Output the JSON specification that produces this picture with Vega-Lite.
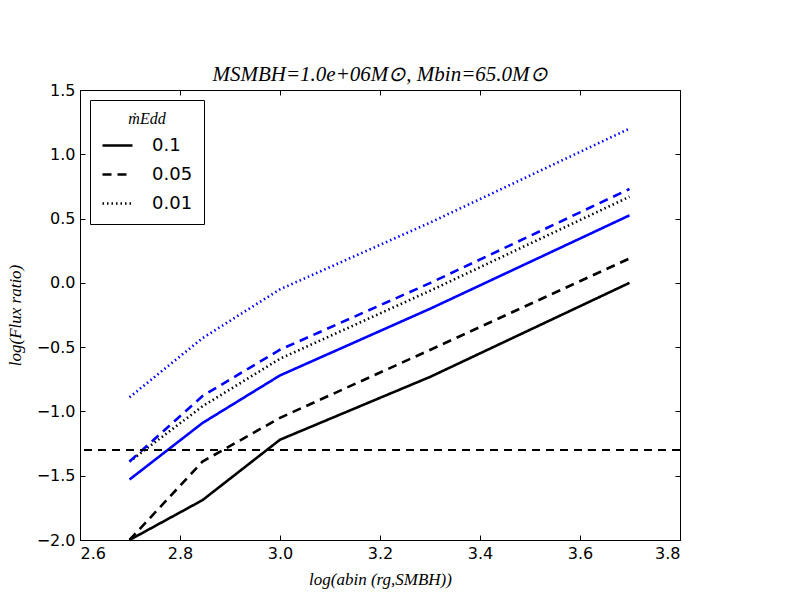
{
  "$schema": "https://vega.github.io/schema/vega-lite/v6.json",
  "width": 600,
  "height": 450,
  "autosize": {"type": "none"},
  "padding": {"left": 80, "top": 90, "right": 120, "bottom": 60},
  "background": "white",
  "title": {
    "text": "MSMBH=1.0e+06M⊙, Mbin=65.0M⊙",
    "font": "Liberation Serif",
    "fontStyle": "italic",
    "fontWeight": "normal",
    "fontSize": 21,
    "color": "black",
    "anchor": "middle",
    "offset": -3
  },
  "config": {
    "view": {"stroke": "black", "strokeWidth": 1},
    "axis": {
      "labelFont": "DejaVu Sans",
      "labelFontSize": 16,
      "labelColor": "black",
      "titleFont": "Liberation Serif",
      "titleFontStyle": "italic",
      "titleFontWeight": "normal",
      "titleFontSize": 17,
      "titleColor": "black",
      "domainColor": "black",
      "tickColor": "black",
      "tickSize": -5,
      "grid": false
    }
  },
  "data": {
    "values": [
      {"a": 2.699, "flux": -2.0, "mdot": "0.1", "run": "A"},
      {"a": 2.845, "flux": -1.69, "mdot": "0.1", "run": "A"},
      {"a": 3.0, "flux": -1.22, "mdot": "0.1", "run": "A"},
      {"a": 3.301, "flux": -0.73, "mdot": "0.1", "run": "A"},
      {"a": 3.699, "flux": 0.0, "mdot": "0.1", "run": "A"},
      {"a": 2.699, "flux": -2.0, "mdot": "0.05", "run": "A"},
      {"a": 2.845, "flux": -1.39, "mdot": "0.05", "run": "A"},
      {"a": 3.0, "flux": -1.05, "mdot": "0.05", "run": "A"},
      {"a": 3.301, "flux": -0.52, "mdot": "0.05", "run": "A"},
      {"a": 3.699, "flux": 0.19, "mdot": "0.05", "run": "A"},
      {"a": 2.699, "flux": -1.39, "mdot": "0.01", "run": "A"},
      {"a": 2.845, "flux": -0.96, "mdot": "0.01", "run": "A"},
      {"a": 3.0, "flux": -0.59, "mdot": "0.01", "run": "A"},
      {"a": 3.301, "flux": -0.06, "mdot": "0.01", "run": "A"},
      {"a": 3.699, "flux": 0.67, "mdot": "0.01", "run": "A"},
      {"a": 2.699, "flux": -1.53, "mdot": "0.1", "run": "B"},
      {"a": 2.845, "flux": -1.09, "mdot": "0.1", "run": "B"},
      {"a": 3.0, "flux": -0.72, "mdot": "0.1", "run": "B"},
      {"a": 3.301, "flux": -0.2, "mdot": "0.1", "run": "B"},
      {"a": 3.699, "flux": 0.525, "mdot": "0.1", "run": "B"},
      {"a": 2.699, "flux": -1.39, "mdot": "0.05", "run": "B"},
      {"a": 2.845, "flux": -0.88, "mdot": "0.05", "run": "B"},
      {"a": 3.0, "flux": -0.52, "mdot": "0.05", "run": "B"},
      {"a": 3.301, "flux": 0.0, "mdot": "0.05", "run": "B"},
      {"a": 3.699, "flux": 0.73, "mdot": "0.05", "run": "B"},
      {"a": 2.699, "flux": -0.89, "mdot": "0.01", "run": "B"},
      {"a": 2.845, "flux": -0.43, "mdot": "0.01", "run": "B"},
      {"a": 3.0, "flux": -0.05, "mdot": "0.01", "run": "B"},
      {"a": 3.301, "flux": 0.47, "mdot": "0.01", "run": "B"},
      {"a": 3.699, "flux": 1.2, "mdot": "0.01", "run": "B"}
    ]
  },
  "resolve": {"axis": {"x": "independent", "y": "independent"}},
  "layer": [
    {
      "mark": {"type": "line", "strokeWidth": 2.6},
      "encoding": {
        "x": {
          "field": "a",
          "type": "quantitative",
          "scale": {"domain": [2.6, 3.8], "nice": false, "zero": false},
          "axis": {
            "title": "log(abin (rg,SMBH))",
            "values": [2.6, 2.8, 3.0, 3.2, 3.4, 3.6, 3.8],
            "format": ".1f",
            "labelPadding": 10,
            "titlePadding": 10
          }
        },
        "y": {
          "field": "flux",
          "type": "quantitative",
          "scale": {"domain": [-2.0, 1.5], "nice": false, "zero": false},
          "axis": {
            "title": "log(Flux ratio)",
            "values": [-2.0, -1.5, -1.0, -0.5, 0.0, 0.5, 1.0, 1.5],
            "format": ".1f",
            "labelPadding": 10,
            "titlePadding": 12
          }
        },
        "color": {
          "field": "run",
          "type": "nominal",
          "scale": {"domain": ["A", "B"], "range": ["black", "blue"]},
          "legend": null
        },
        "strokeDash": {
          "field": "mdot",
          "type": "nominal",
          "scale": {
            "domain": ["0.1", "0.05", "0.01"],
            "range": [[1, 0], [9, 6], [1.5, 3]]
          },
          "legend": {
            "title": "ṁEdd",
            "titleFont": "Liberation Serif",
            "titleFontStyle": "italic",
            "titleFontWeight": "normal",
            "titleFontSize": 16,
            "titleColor": "black",
            "titleAnchor": "middle",
            "titlePadding": 2,
            "orient": "top-left",
            "offset": 10,
            "padding": 11,
            "strokeColor": "black",
            "fillColor": "white",
            "cornerRadius": 0,
            "symbolType": "stroke",
            "symbolSize": 900,
            "symbolStrokeWidth": 2.6,
            "symbolStrokeColor": "black",
            "labelFont": "DejaVu Sans",
            "labelFontSize": 18,
            "labelColor": "black",
            "labelOffset": 18,
            "rowPadding": 3
          }
        }
      }
    },
    {
      "mark": {"type": "rule", "strokeWidth": 1, "strokeDash": [8, 6], "color": "black"},
      "encoding": {"y": {"datum": -1.3, "axis": null}}
    },
    {
      "mark": {"type": "point", "opacity": 0},
      "encoding": {
        "x": {
          "field": "a",
          "type": "quantitative",
          "axis": {
            "orient": "top",
            "title": null,
            "labels": false,
            "domain": false,
            "values": [2.6, 2.8, 3.0, 3.2, 3.4, 3.6, 3.8]
          }
        },
        "y": {
          "field": "flux",
          "type": "quantitative",
          "axis": {
            "orient": "right",
            "title": null,
            "labels": false,
            "domain": false,
            "values": [-2.0, -1.5, -1.0, -0.5, 0.0, 0.5, 1.0, 1.5]
          }
        }
      }
    }
  ]
}
